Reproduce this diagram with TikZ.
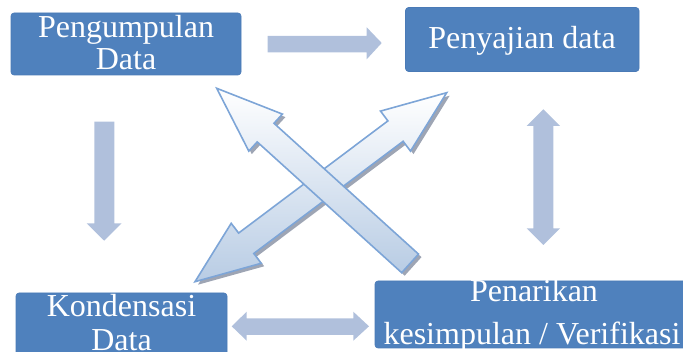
\documentclass[tikz,border=0pt]{standalone}
\usepackage{fontspec}
\setmainfont{Liberation Serif}
\definecolor{boxblue}{RGB}{79,129,189}
\definecolor{boxline}{RGB}{74,122,182}
\definecolor{arrowflat}{RGB}{176,192,220}
\definecolor{xline}{RGB}{125,165,215}
\definecolor{xfill}{RGB}{184,204,228}
\definecolor{xshadow}{RGB}{125,135,155}
\begin{document}
\begin{tikzpicture}[x=1pt,y=-1pt,
  box/.style={fill=boxblue, draw=boxline, rounded corners=3pt, line width=0.6pt, inner sep=0pt},
  lbl/.style={text=white, font=\fontsize{32}{35}\selectfont, inner sep=0pt, anchor=base},
  flat/.style={fill=arrowflat, draw=none},
  xarrow/.style={draw=xline, line width=1.6pt, line join=miter, top color=white, bottom color=xfill},
  xshad/.style={fill=xshadow, draw=none, opacity=0.75}]
\useasboundingbox (0,0) rectangle (683,352);
\clip (0,0) rectangle (683,352);

% boxes
\node[box, minimum width=230pt, minimum height=62pt] (b1) at (126,44) {};
\node[box, minimum width=233.5pt, minimum height=64pt] (b2) at (522.25,39.5) {};
\node[box, minimum width=211pt, minimum height=69pt] (b3) at (121.5,327.5) {};
\node[box, minimum width=315pt, minimum height=67pt] (b4) at (532.5,314.5) {};

% labels
\node[lbl] (t1a) at (126,37.3) {Pengumpulan};
\node[lbl] (t1b) at (126,69.3) {Data};
\node[lbl] (t2) at (522,48.3) {Penyajian data};
\node[lbl] (t3a) at (121.5,316.7) {Kondensasi};
\node[lbl] (t3b) at (121.5,350.5) {Data};
\node[lbl] (t4a) at (534,301.7) {Penarikan};
\node[lbl] (t4b) at (532,345) {kesimpulan / Verifikasi};

% flat block arrows
\fill[flat] (267.7,36) -- (366.7,36) -- (366.7,27.3) -- (381.7,43) -- (366.7,59.3) -- (366.7,52.3) -- (267.7,52.3) -- cycle;
\fill[flat] (94.3,121.7) -- (114.3,121.7) -- (114.3,223.3) -- (121.7,223.3) -- (104.2,240.7) -- (86.7,223.3) -- (94.3,223.3) -- cycle;
\fill[flat] (543.3,109.3) -- (560,126) -- (553.3,126) -- (553.3,228.3) -- (560,228.3) -- (543.3,245) -- (526.7,228.3) -- (533.3,228.3) -- (533.3,126) -- (526.7,126) -- cycle;
\fill[flat] (231.7,326.3) -- (246.7,311.7) -- (246.7,318.3) -- (353.3,318.3) -- (353.3,311.7) -- (369,326.3) -- (353.3,340.7) -- (353.3,335) -- (246.7,335) -- (246.7,340.7) -- cycle;

% crossing arrows: double-headed (below)
\def\arrowB{(195,281.7) -- (261.2,263.3) -- (253.8,253.5) -- (403.1,141.3) -- (410.5,151.1) -- (446.7,92.7) -- (380.5,111.1) -- (387.9,120.9) -- (238.6,233.1) -- (231.2,223.3) -- cycle}
\def\arrowA{(216.7,88.3) -- (248.8,151.1) -- (257.2,141.9) -- (401.7,272.7) -- (418.5,254.1) -- (274,123.3) -- (282.4,114.1) -- cycle}
\begin{scope}[shift={(3,3)}]
  \fill[xshad] \arrowB;
\end{scope}
\path[xarrow] \arrowB;
\begin{scope}[shift={(3,3)}]
  \fill[xshad] \arrowA;
\end{scope}
\path[xarrow] \arrowA;
\end{tikzpicture}
\end{document}
